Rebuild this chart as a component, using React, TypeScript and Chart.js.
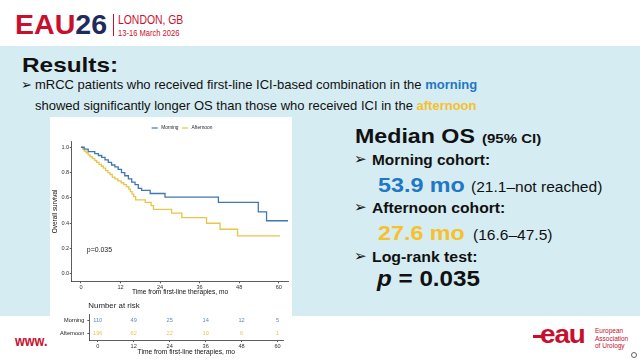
import React, { useEffect, useRef } from 'react';
import { Chart, registerables } from 'chart.js';

Chart.register(...registerables);

// ---------- data ----------
const monthTicks = [0, 12, 24, 36, 48, 60];
const survivalTicks = [0, 0.2, 0.4, 0.6, 0.8, 1.0];

const seriesLabels = ['Morning', 'Afternoon'];

const morningTime = [0, 1.0, 2.2, 4.2, 5.3, 6.3, 7.3, 8.3, 9.3, 10.3, 11.3, 12.3, 13.3, 14.4, 15.4, 16.4, 17.4, 18.4, 21.0, 25.5, 41.7, 53.8, 56.3, 62.9];
const morningSurv = [1.0, 0.985, 0.965, 0.95, 0.935, 0.92, 0.9, 0.88, 0.86, 0.845, 0.825, 0.8, 0.775, 0.75, 0.725, 0.705, 0.675, 0.66, 0.635, 0.607, 0.565, 0.49, 0.42, 0.42];

const afternoonTime = [0, 0.5, 1.0, 1.6, 2.2, 2.8, 3.5, 4.2, 4.8, 5.5, 6.2, 6.8, 7.5, 8.2, 8.8, 9.5, 10.3, 11.2, 12.2, 13.0, 13.8, 14.5, 15.0, 15.5, 16.0, 16.6, 19.5, 21.3, 22.0, 27.5, 30.6, 38.1, 42.2, 47.5, 60.4];
const afternoonSurv = [1.0, 0.985, 0.97, 0.955, 0.94, 0.925, 0.91, 0.895, 0.88, 0.865, 0.85, 0.835, 0.815, 0.8, 0.785, 0.765, 0.75, 0.735, 0.72, 0.705, 0.69, 0.67, 0.65, 0.63, 0.61, 0.585, 0.565, 0.54, 0.51, 0.48, 0.445, 0.40, 0.353, 0.30, 0.30];

const riskTimes = [0, 12, 24, 36, 48, 60];
const riskMorning = [110, 49, 25, 14, 12, 5];
const riskAfternoon = [196, 62, 22, 10, 6, 1];

// ---------- styles ----------
const FONT = '"Liberation Sans", Arial, Helvetica, sans-serif';
const LINE_BLUE = '#3f77ae';
const LINE_YELLOW = '#e7c548';
const RISK_BLUE = '#5a8cc0';
const RISK_YELLOW = '#e9c650';
const AXIS = '#333333';
const RED = '#c8102e';
const NAVY = '#1e2b5c';
const TXT_BLUE = '#1f77c6';
const TXT_YELLOW = '#f6c12a';
const BAND = '#d5ecf2';

const kmLegend = {
  id: 'kmLegend',
  afterDraw(chart: any) {
    const ctx = chart.ctx;
    ctx.save();
    ctx.font = `4.8px ${FONT}`;
    ctx.textBaseline = 'middle';
    const ds = chart.data.datasets;
    const lineLen = 6;
    const gap = 3.5;
    const itemGap = 3.5;
    const widths = ds.map((d: any) => lineLen + gap + ctx.measureText(d.label).width);
    const total = widths.reduce((a: number, b: number) => a + b, 0) + itemGap * (ds.length - 1);
    const cx = (chart.chartArea.left + chart.chartArea.right) / 2 + 2;
    let x = cx - total / 2;
    const y = 11;
    ds.forEach((d: any, i: number) => {
      ctx.strokeStyle = d.borderColor;
      ctx.lineWidth = 1.2;
      ctx.beginPath();
      ctx.moveTo(x, y);
      ctx.lineTo(x + lineLen, y);
      ctx.stroke();
      ctx.fillStyle = '#222';
      ctx.textAlign = 'left';
      ctx.fillText(d.label, x + lineLen + gap, y);
      x += widths[i] + itemGap;
    });
    ctx.restore();
  },
};

const pValueNote = {
  id: 'pValueNote',
  afterDraw(chart: any) {
    const { ctx, scales } = chart;
    ctx.save();
    ctx.font = `6.9px ${FONT}`;
    ctx.fillStyle = '#222';
    ctx.textAlign = 'left';
    ctx.textBaseline = 'middle';
    ctx.fillText('p=0.035', scales.x.getPixelForValue(1.8), scales.y.getPixelForValue(0.19));
    ctx.restore();
  },
};

const riskNumbers = {
  id: 'riskNumbers',
  afterDatasetsDraw(chart: any) {
    const ctx = chart.ctx;
    const counts = [riskMorning, riskAfternoon];
    ctx.save();
    ctx.font = `5.6px ${FONT}`;
    ctx.textAlign = 'center';
    ctx.textBaseline = 'middle';
    chart.data.datasets.forEach((d: any, di: number) => {
      const meta = chart.getDatasetMeta(di);
      ctx.fillStyle = d.borderColor;
      meta.data.forEach((pt: any, i: number) => {
        ctx.fillText(String(counts[di][i]), pt.x, pt.y);
      });
    });
    ctx.font = `7.9px ${FONT}`;
    ctx.fillStyle = '#222';
    ctx.textAlign = 'left';
    ctx.fillText('Number at risk', 38.3, 7.7);
    ctx.restore();
  },
};

function axisCommon(tickSize: number) {
  return {
    grid: { drawOnChartArea: false, drawTicks: true, tickLength: 2, color: AXIS, lineWidth: 0.8 },
    border: { display: true, color: AXIS, width: 0.8 },
    ticks: { font: { family: FONT, size: tickSize }, color: '#333', maxRotation: 0, autoSkip: false },
  };
}

function KMChart() {
  const ref = useRef<HTMLCanvasElement>(null);
  useEffect(() => {
    if (!ref.current) return;
    const ax = axisCommon(5.6);
    const chart = new Chart(ref.current, {
      type: 'line',
      data: {
        datasets: [
          {
            label: seriesLabels[0],
            data: morningTime.map((t, i) => ({ x: t, y: morningSurv[i] })),
            borderColor: LINE_BLUE,
            borderWidth: 1.3,
            stepped: true,
            pointRadius: 0,
            fill: false,
          },
          {
            label: seriesLabels[1],
            data: afternoonTime.map((t, i) => ({ x: t, y: afternoonSurv[i] })),
            borderColor: LINE_YELLOW,
            borderWidth: 1.3,
            stepped: true,
            pointRadius: 0,
            fill: false,
          },
        ],
      },
      options: {
        animation: false,
        responsive: false,
        maintainAspectRatio: false,
        layout: { padding: { left: 0, right: 3.7, top: 24.3, bottom: 0 } },
        plugins: { legend: { display: false }, tooltip: { enabled: false } },
        scales: {
          x: {
            type: 'linear',
            min: -2.8,
            max: 62.9,
            afterBuildTicks: (s: any) => { s.ticks = monthTicks.map((v) => ({ value: v })); },
            afterFit: (s: any) => { s.height = 16.7; },
            grid: ax.grid,
            border: ax.border,
            ticks: { ...ax.ticks, padding: 0.5 },
            title: { display: true, text: 'Time from first-line therapies, mo', font: { family: FONT, size: 6.6 }, color: '#111', padding: { top: 0, bottom: 1.7 } },
          },
          y: {
            type: 'linear',
            min: -0.058,
            max: 1.047,
            afterBuildTicks: (s: any) => { s.ticks = survivalTicks.map((v) => ({ value: v })); },
            afterFit: (s: any) => { s.width = 21.7; },
            grid: ax.grid,
            border: ax.border,
            ticks: { ...ax.ticks, padding: 0.5, callback: (v: any) => Number(v).toFixed(1) },
            title: { display: true, text: 'Overall survival', font: { family: FONT, size: 6.4 }, color: '#111', padding: { top: 1, bottom: 0 } },
          },
        },
      } as any,
      plugins: [kmLegend, pValueNote],
    });
    return () => chart.destroy();
  }, []);
  return <canvas ref={ref} width={242} height={181} style={{ position: 'absolute', left: 50, top: 117, width: 242, height: 181 }} />;
}

function RiskTable() {
  const ref = useRef<HTMLCanvasElement>(null);
  useEffect(() => {
    if (!ref.current) return;
    const ax = axisCommon(5.6);
    const chart = new Chart(ref.current, {
      type: 'scatter',
      data: {
        datasets: [
          { label: seriesLabels[0], data: riskTimes.map((t) => ({ x: t, y: seriesLabels[0] })), borderColor: RISK_BLUE, backgroundColor: RISK_BLUE, pointRadius: 0 },
          { label: seriesLabels[1], data: riskTimes.map((t) => ({ x: t, y: seriesLabels[1] })), borderColor: RISK_YELLOW, backgroundColor: RISK_YELLOW, pointRadius: 0 },
        ],
      },
      options: {
        animation: false,
        responsive: false,
        maintainAspectRatio: false,
        layout: { padding: { left: 0, right: 8.7, top: 16, bottom: 0 } },
        plugins: { legend: { display: false }, tooltip: { enabled: false } },
        scales: {
          x: {
            type: 'linear',
            min: -2.8,
            max: 61.9,
            afterBuildTicks: (s: any) => { s.ticks = riskTimes.map((v) => ({ value: v })); },
            afterFit: (s: any) => { s.height = 18; },
            grid: ax.grid,
            border: ax.border,
            ticks: { ...ax.ticks, padding: 1 },
            title: { display: true, text: 'Time from first-line therapies, mo', font: { family: FONT, size: 6.7 }, color: '#111', padding: { top: 0, bottom: 2.3 } },
          },
          y: {
            type: 'category',
            labels: seriesLabels,
            offset: true,
            afterFit: (s: any) => { s.width = 39.3; },
            grid: { ...ax.grid, offset: false },
            border: ax.border,
            ticks: { ...ax.ticks, font: { family: FONT, size: 5.6 }, color: '#222', padding: 3 },
          },
        },
      } as any,
      plugins: [riskNumbers],
    });
    return () => chart.destroy();
  }, []);
  return <canvas ref={ref} width={242} height={60} style={{ position: 'absolute', left: 50, top: 298, width: 242, height: 60 }} />;
}

function T(props: { x: number; base: number; size: number; sx?: number; weight?: number; color?: string; family?: string; children: any }) {
  const { x, base, size, sx = 1, weight = 400, color = '#111', family = FONT, children } = props;
  return (
    <div
      style={{
        position: 'absolute',
        left: x,
        top: base - 0.8465 * size,
        fontSize: size,
        lineHeight: `${size}px`,
        fontWeight: weight,
        color,
        fontFamily: family,
        whiteSpace: 'nowrap',
        transform: `scaleX(${sx})`,
        transformOrigin: '0 0',
      }}
    >
      {children}
    </div>
  );
}

function Arrow(props: { x: number; base: number; size: number }) {
  return (
    <T x={props.x} base={props.base} size={props.size} weight={700} family='"DejaVu Sans", sans-serif' color="#111">
      {'\u27A2'}
    </T>
  );
}

export default function App() {
  return (
    <div style={{ position: 'fixed', left: 0, top: 0, width: 640, height: 360, overflow: 'hidden', background: '#ffffff', fontFamily: FONT }}>
      {/* header */}
      <T x={15} base={35} size={28} weight={700} color={RED} sx={1.02}>
        EAU<span style={{ color: NAVY }}>26</span>
      </T>
      <div style={{ position: 'absolute', left: 113, top: 14, width: 1, height: 22, background: RED }} />
      <T x={118} base={24} size={13} sx={0.8} color={RED}>LONDON, GB</T>
      <T x={118} base={36} size={8.5} sx={0.89} color={RED}>13-16 March 2026</T>

      {/* band */}
      <div style={{ position: 'absolute', left: 0, top: 46, width: 640, height: 270, background: BAND }} />

      <T x={22} base={71.7} size={21} sx={1.16} weight={700}>Results:</T>
      <Arrow x={21} base={89.3} size={13} />
      <T x={35} base={89.3} size={13}>
        mRCC patients who received first-line ICI-based combination in the <b style={{ color: TXT_BLUE }}>morning</b>
      </T>
      <T x={35} base={110} size={13}>
        showed significantly longer OS than those who received ICI in the <b style={{ color: TXT_YELLOW }}>afternoon</b>
      </T>

      {/* chart panel */}
      <div style={{ position: 'absolute', left: 50, top: 117, width: 242, height: 241, background: '#ffffff' }} />
      <KMChart />
      <RiskTable />

      {/* right summary */}
      <T x={355} base={143.3} size={20} sx={1.16} weight={700}>Median OS</T>
      <T x={482} base={143.3} size={12} sx={1.25} weight={700}>(95% CI)</T>
      <Arrow x={354} base={165} size={15} />
      <T x={372} base={165} size={14} sx={1.1} weight={700}>Morning cohort:</T>
      <T x={378} base={191.7} size={21} sx={1.11} weight={700} color={TXT_BLUE}>53.9 mo</T>
      <T x={471} base={191.7} size={14} sx={1.11}>(21.1–not reached)</T>
      <Arrow x={354} base={212.7} size={15} />
      <T x={372} base={212.7} size={14} sx={1.12} weight={700}>Afternoon cohort:</T>
      <T x={378} base={240} size={21} sx={1.11} weight={700} color={TXT_YELLOW}>27.6 mo</T>
      <T x={473} base={240} size={14} sx={1.11}>(16.6–47.5)</T>
      <Arrow x={354} base={261.7} size={15} />
      <T x={372} base={261.7} size={14} sx={1.13} weight={700}>Log-rank test:</T>
      <T x={377} base={286.7} size={22} sx={1.1} weight={700}>
        <i>p</i> = 0.035
      </T>

      {/* footer */}
      <T x={15} base={346} size={14} sx={0.9} weight={800} color={RED}>www.</T>
      <div style={{ position: 'absolute', left: 533, top: 335, width: 10, height: 2.5, background: RED }} />
      <T x={540} base={343} size={26} sx={1.07} weight={700} color={RED}>
        <span style={{ letterSpacing: -1 }}>eau</span>
      </T>
      <T x={595} base={334} size={6.5} color={RED}>European</T>
      <T x={595} base={341.5} size={6.5} color={RED}>Association</T>
      <T x={595} base={349} size={6.5} color={RED}>of Urology</T>
      <div style={{ position: 'absolute', left: 631, top: 352, width: 4, height: 4, borderRadius: 3, border: '1px solid #666' }} />
    </div>
  );
}
